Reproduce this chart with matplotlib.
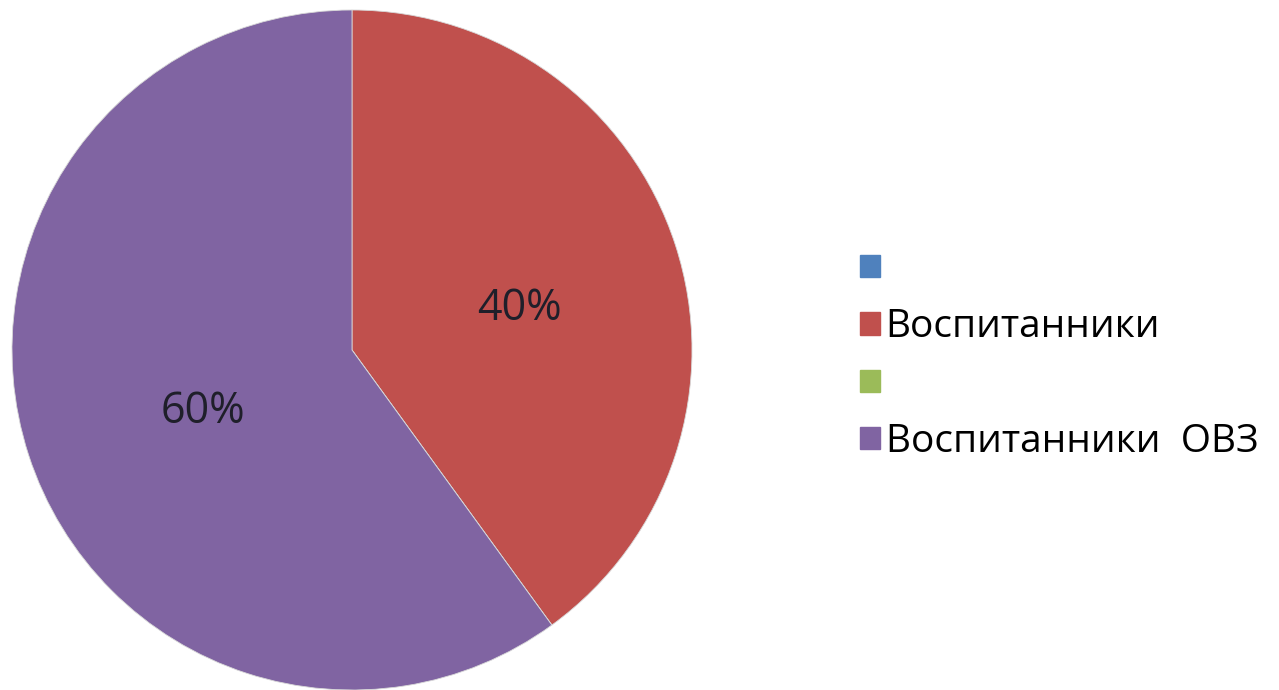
import matplotlib
matplotlib.use("Agg")
import matplotlib.pyplot as plt
import matplotlib.transforms as mtransforms
from matplotlib.patches import Patch

plt.rcParams['font.family'] = ['Open Sans', 'DejaVu Sans']

labels = ['', 'Воспитанники', '', 'Воспитанники  ОВЗ']
values = [0, 40, 0, 60]
colors = ['#4F81BD', '#C0504D', '#9BBB59', '#8064A2']

fig = plt.figure(figsize=(12.79, 6.90), dpi=100)
W, H = 1279, 690
cx, cy, r = 352, 350, 340
ax = fig.add_axes([(cx - r) / W, (H - cy - r) / H, 2 * r / W, 2 * r / H])

def fmt(p):
    return '' if p < 0.5 else f'{p:.0f}%'

wedges, texts, autotexts = ax.pie(values, colors=colors, startangle=90, counterclock=False,
                                  autopct=fmt, pctdistance=0.49, radius=1.0,
                                  wedgeprops=dict(edgecolor='#d8d8d8', linewidth=0.6),
                                  textprops=dict(fontsize=31, color='#1f1f2a'))
shift = mtransforms.ScaledTranslation(9 / 100, -10 / 100, fig.dpi_scale_trans)
for t in autotexts:
    t.set_transform(t.get_transform() + shift)
ax.set_xlim(-1, 1)
ax.set_ylim(-1, 1)
ax.set_aspect('equal')

handles = [Patch(facecolor=c, edgecolor=c) for c in colors]
fig.legend(handles, labels, loc='center left', bbox_to_anchor=(841 / W, 1 - 356 / H),
           frameon=False, fontsize=28, handlelength=0.5, handleheight=0.5,
           handletextpad=0.15, labelspacing=0.5, borderpad=0)

fig.savefig('out.png', dpi=100, facecolor='white')
